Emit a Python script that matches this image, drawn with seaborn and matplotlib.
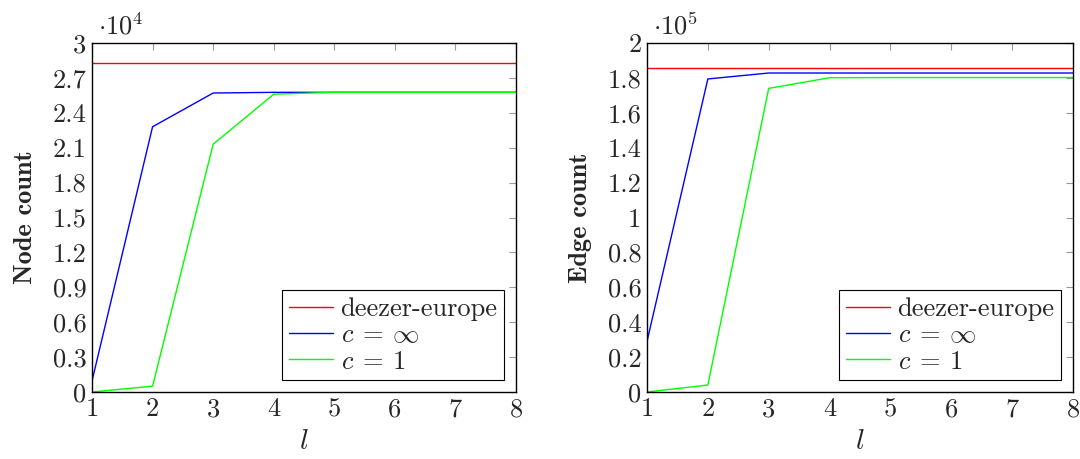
import numpy as np
import pandas as pd
import matplotlib
matplotlib.use('Agg')
import matplotlib.pyplot as plt
import seaborn as sns

# data
l_values = [1, 2, 3, 4, 5, 6, 7, 8]
node_full = [950, 22800, 25700, 25760, 25760, 25760, 25760, 25760]
node_c1 = [0, 500, 21300, 25600, 25760, 25760, 25760, 25760]
node_total = 28300
edge_full = [29000, 179400, 182800, 182800, 182800, 182800, 182800, 182800]
edge_c1 = [0, 4000, 174000, 180100, 180200, 180200, 180200, 180200]
edge_total = 185600

sns.set_style('white')
plt.rcParams['font.family'] = 'serif'
plt.rcParams['font.serif'] = ['cmr10', 'DejaVu Serif']
plt.rcParams['mathtext.fontset'] = 'cm'
plt.rcParams['axes.unicode_minus'] = False

names = ['deezer-europe', r'$c\:=\:\infty$', r'$c\:=\:1$']
palette = dict(zip(names, ['#ff0000', '#0000ff', '#00ff00']))


def make_df(total, full, c1):
    rows = []
    for l, a, b in zip(l_values, full, c1):
        rows.append((l, total, names[0]))
        rows.append((l, a, names[1]))
        rows.append((l, b, names[2]))
    return pd.DataFrame(rows, columns=['l', 'value', 'series'])


fig = plt.figure(figsize=(10.8, 4.59), dpi=100)
ax1 = fig.add_axes([92 / 1080, 1 - 392 / 459, 424 / 1080, 349 / 459])
ax2 = fig.add_axes([647 / 1080, 1 - 392 / 459, 426 / 1080, 349 / 459])

panels = [
    (ax1, make_df(node_total, node_full, node_c1), 1e4, 3, 0.3, 'Node count', 4),
    (ax2, make_df(edge_total, edge_full, edge_c1), 1e5, 2, 0.2, 'Edge count', 5),
]

for ax, df, scale, ymax, step, ylabel, exp in panels:
    df = df.copy()
    df['value'] = df['value'] / scale
    sns.lineplot(data=df, x='l', y='value', hue='series', palette=palette,
                 hue_order=names, ax=ax, linewidth=1.0, legend=True)
    ax.set_xlim(1, 8)
    ax.set_ylim(0, ymax)
    ax.set_xticks(l_values)
    yt = np.round(np.arange(0, ymax + step / 2, step), 1)
    ax.set_yticks(yt)
    ax.set_yticklabels([f'{v:g}' for v in yt])
    ax.tick_params(direction='in', top=True, right=True, length=5,
                   color='#999999', labelsize=19, pad=4)
    for s in ax.spines.values():
        s.set_color('black')
        s.set_linewidth(1.0)
    ax.set_xlabel(r'$l$', fontsize=21, labelpad=5)
    ax.set_ylabel(ylabel, fontsize=19, family='cmb10', labelpad=11)
    ax.text(0.015, 1.01, r'$\cdot 10^{%d}$' % exp, transform=ax.transAxes,
            fontsize=19, ha='left', va='bottom')
    leg = ax.legend(loc='lower right', fontsize=19, frameon=True, fancybox=False,
                    edgecolor='black', framealpha=1, borderaxespad=0.45,
                    handlelength=1.65, handletextpad=0.3, labelspacing=0.1,
                    borderpad=0.25)
    leg.get_frame().set_linewidth(0.8)
    leg.set_title(None)

fig.savefig('out.png', dpi=100)
